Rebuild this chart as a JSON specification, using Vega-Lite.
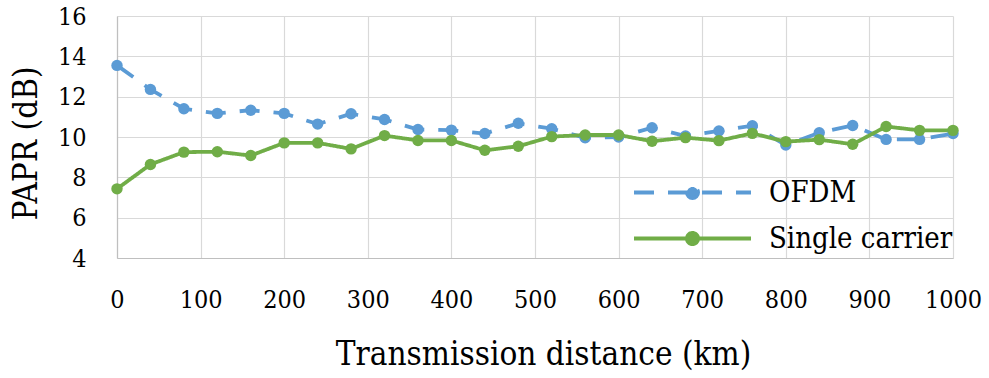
{
  "$schema": "https://vega.github.io/schema/vega-lite/v6.json",
  "width": 836,
  "height": 242,
  "autosize": "none",
  "padding": {"left": 117, "top": 16, "right": 36, "bottom": 120},
  "background": "white",
  "config": {
    "view": {"stroke": null},
    "font": "DejaVu Serif Condensed, DejaVu Serif",
    "axis": {
      "labelFont": "DejaVu Serif Condensed, DejaVu Serif",
      "titleFont": "DejaVu Serif Condensed, DejaVu Serif",
      "labelColor": "#000000",
      "titleColor": "#000000",
      "titleFontWeight": "normal",
      "ticks": false,
      "gridColor": "#d9d9d9",
      "gridWidth": 1.2,
      "domainColor": "#bfbfbf",
      "domainWidth": 1.2
    },
    "legend": {
      "labelFont": "DejaVu Serif Condensed, DejaVu Serif"
    }
  },
  "data": {
    "values": [
      {"d": 0, "series": "OFDM", "papr": 13.55},
      {"d": 40, "series": "OFDM", "papr": 12.36},
      {"d": 80, "series": "OFDM", "papr": 11.4},
      {"d": 120, "series": "OFDM", "papr": 11.17},
      {"d": 160, "series": "OFDM", "papr": 11.33},
      {"d": 200, "series": "OFDM", "papr": 11.17},
      {"d": 240, "series": "OFDM", "papr": 10.64},
      {"d": 280, "series": "OFDM", "papr": 11.15},
      {"d": 320, "series": "OFDM", "papr": 10.87},
      {"d": 360, "series": "OFDM", "papr": 10.37},
      {"d": 400, "series": "OFDM", "papr": 10.34},
      {"d": 440, "series": "OFDM", "papr": 10.17},
      {"d": 480, "series": "OFDM", "papr": 10.68},
      {"d": 520, "series": "OFDM", "papr": 10.41},
      {"d": 560, "series": "OFDM", "papr": 9.96},
      {"d": 600, "series": "OFDM", "papr": 10.0},
      {"d": 640, "series": "OFDM", "papr": 10.46},
      {"d": 680, "series": "OFDM", "papr": 10.05},
      {"d": 720, "series": "OFDM", "papr": 10.3},
      {"d": 760, "series": "OFDM", "papr": 10.56},
      {"d": 800, "series": "OFDM", "papr": 9.6},
      {"d": 840, "series": "OFDM", "papr": 10.21},
      {"d": 880, "series": "OFDM", "papr": 10.57},
      {"d": 920, "series": "OFDM", "papr": 9.88},
      {"d": 960, "series": "OFDM", "papr": 9.88},
      {"d": 1000, "series": "OFDM", "papr": 10.17},
      {"d": 0, "series": "Single carrier", "papr": 7.43},
      {"d": 40, "series": "Single carrier", "papr": 8.64},
      {"d": 80, "series": "Single carrier", "papr": 9.25},
      {"d": 120, "series": "Single carrier", "papr": 9.27},
      {"d": 160, "series": "Single carrier", "papr": 9.08},
      {"d": 200, "series": "Single carrier", "papr": 9.71},
      {"d": 240, "series": "Single carrier", "papr": 9.71},
      {"d": 280, "series": "Single carrier", "papr": 9.41},
      {"d": 320, "series": "Single carrier", "papr": 10.07},
      {"d": 360, "series": "Single carrier", "papr": 9.83},
      {"d": 400, "series": "Single carrier", "papr": 9.83},
      {"d": 440, "series": "Single carrier", "papr": 9.34},
      {"d": 480, "series": "Single carrier", "papr": 9.54},
      {"d": 520, "series": "Single carrier", "papr": 10.02},
      {"d": 560, "series": "Single carrier", "papr": 10.1},
      {"d": 600, "series": "Single carrier", "papr": 10.1},
      {"d": 640, "series": "Single carrier", "papr": 9.79},
      {"d": 680, "series": "Single carrier", "papr": 9.97},
      {"d": 720, "series": "Single carrier", "papr": 9.82},
      {"d": 760, "series": "Single carrier", "papr": 10.18},
      {"d": 800, "series": "Single carrier", "papr": 9.77},
      {"d": 840, "series": "Single carrier", "papr": 9.87},
      {"d": 880, "series": "Single carrier", "papr": 9.64},
      {"d": 920, "series": "Single carrier", "papr": 10.52},
      {"d": 960, "series": "Single carrier", "papr": 10.33},
      {"d": 1000, "series": "Single carrier", "papr": 10.33}
    ]
  },
  "mark": {
    "type": "line",
    "strokeWidth": 3.8,
    "point": {"filled": true, "size": 130, "opacity": 1}
  },
  "encoding": {
    "x": {
      "field": "d",
      "type": "quantitative",
      "scale": {"domain": [0, 1000], "nice": false, "zero": false},
      "axis": {
        "values": [0, 100, 200, 300, 400, 500, 600, 700, 800, 900, 1000],
        "format": "d",
        "title": "Transmission distance (km)",
        "labelFontSize": 25,
        "labelPadding": 29,
        "labelFlush": false,
        "titleFontSize": 33,
        "titleBaseline": "alphabetic",
        "titleY": 106,
        "titleX": 426
      }
    },
    "y": {
      "field": "papr",
      "type": "quantitative",
      "scale": {"domain": [4, 16], "nice": false, "zero": false},
      "axis": {
        "values": [4, 6, 8, 10, 12, 14, 16],
        "format": "d",
        "title": "PAPR (dB)",
        "labelFontSize": 25,
        "labelPadding": 31,
        "labelFlush": false,
        "titleFontSize": 33,
        "titleBaseline": "alphabetic",
        "titleAngle": 270,
        "titleX": -81,
        "titleY": 127
      }
    },
    "color": {
      "field": "series",
      "type": "nominal",
      "scale": {"domain": ["OFDM", "Single carrier"], "range": ["#5b9bd5", "#70ad47"]},
      "legend": {
        "title": null,
        "orient": "none",
        "legendX": 561,
        "legendY": 162,
        "padding": 0,
        "rowPadding": 16,
        "symbolType": "M-11.7,0H11.7M-1.1,0a1.1,1.1 0 1,0 2.2,0a1.1,1.1 0 1,0 -2.2,0",
        "symbolSize": 100,
        "symbolStrokeWidth": 4,
        "labelFontSize": 29,
        "labelColor": "#000000",
        "labelOffset": 62,
        "labelLimit": 400,
        "encode": {
          "symbols": {
            "update": {
              "fill": {"signal": "datum.value === 'OFDM' ? '#5b9bd5' : '#70ad47'"},
              "stroke": {"signal": "datum.value === 'OFDM' ? '#5b9bd5' : '#70ad47'"},
              "strokeDash": {"signal": "datum.value === 'OFDM' ? [20, 14] : [1, 0]"},
              "opacity": {"value": 1}
            }
          }
        }
      }
    },
    "strokeDash": {
      "field": "series",
      "type": "nominal",
      "scale": {"domain": ["OFDM", "Single carrier"], "range": [[20, 14], [1, 0]]},
      "legend": null
    }
  }
}
